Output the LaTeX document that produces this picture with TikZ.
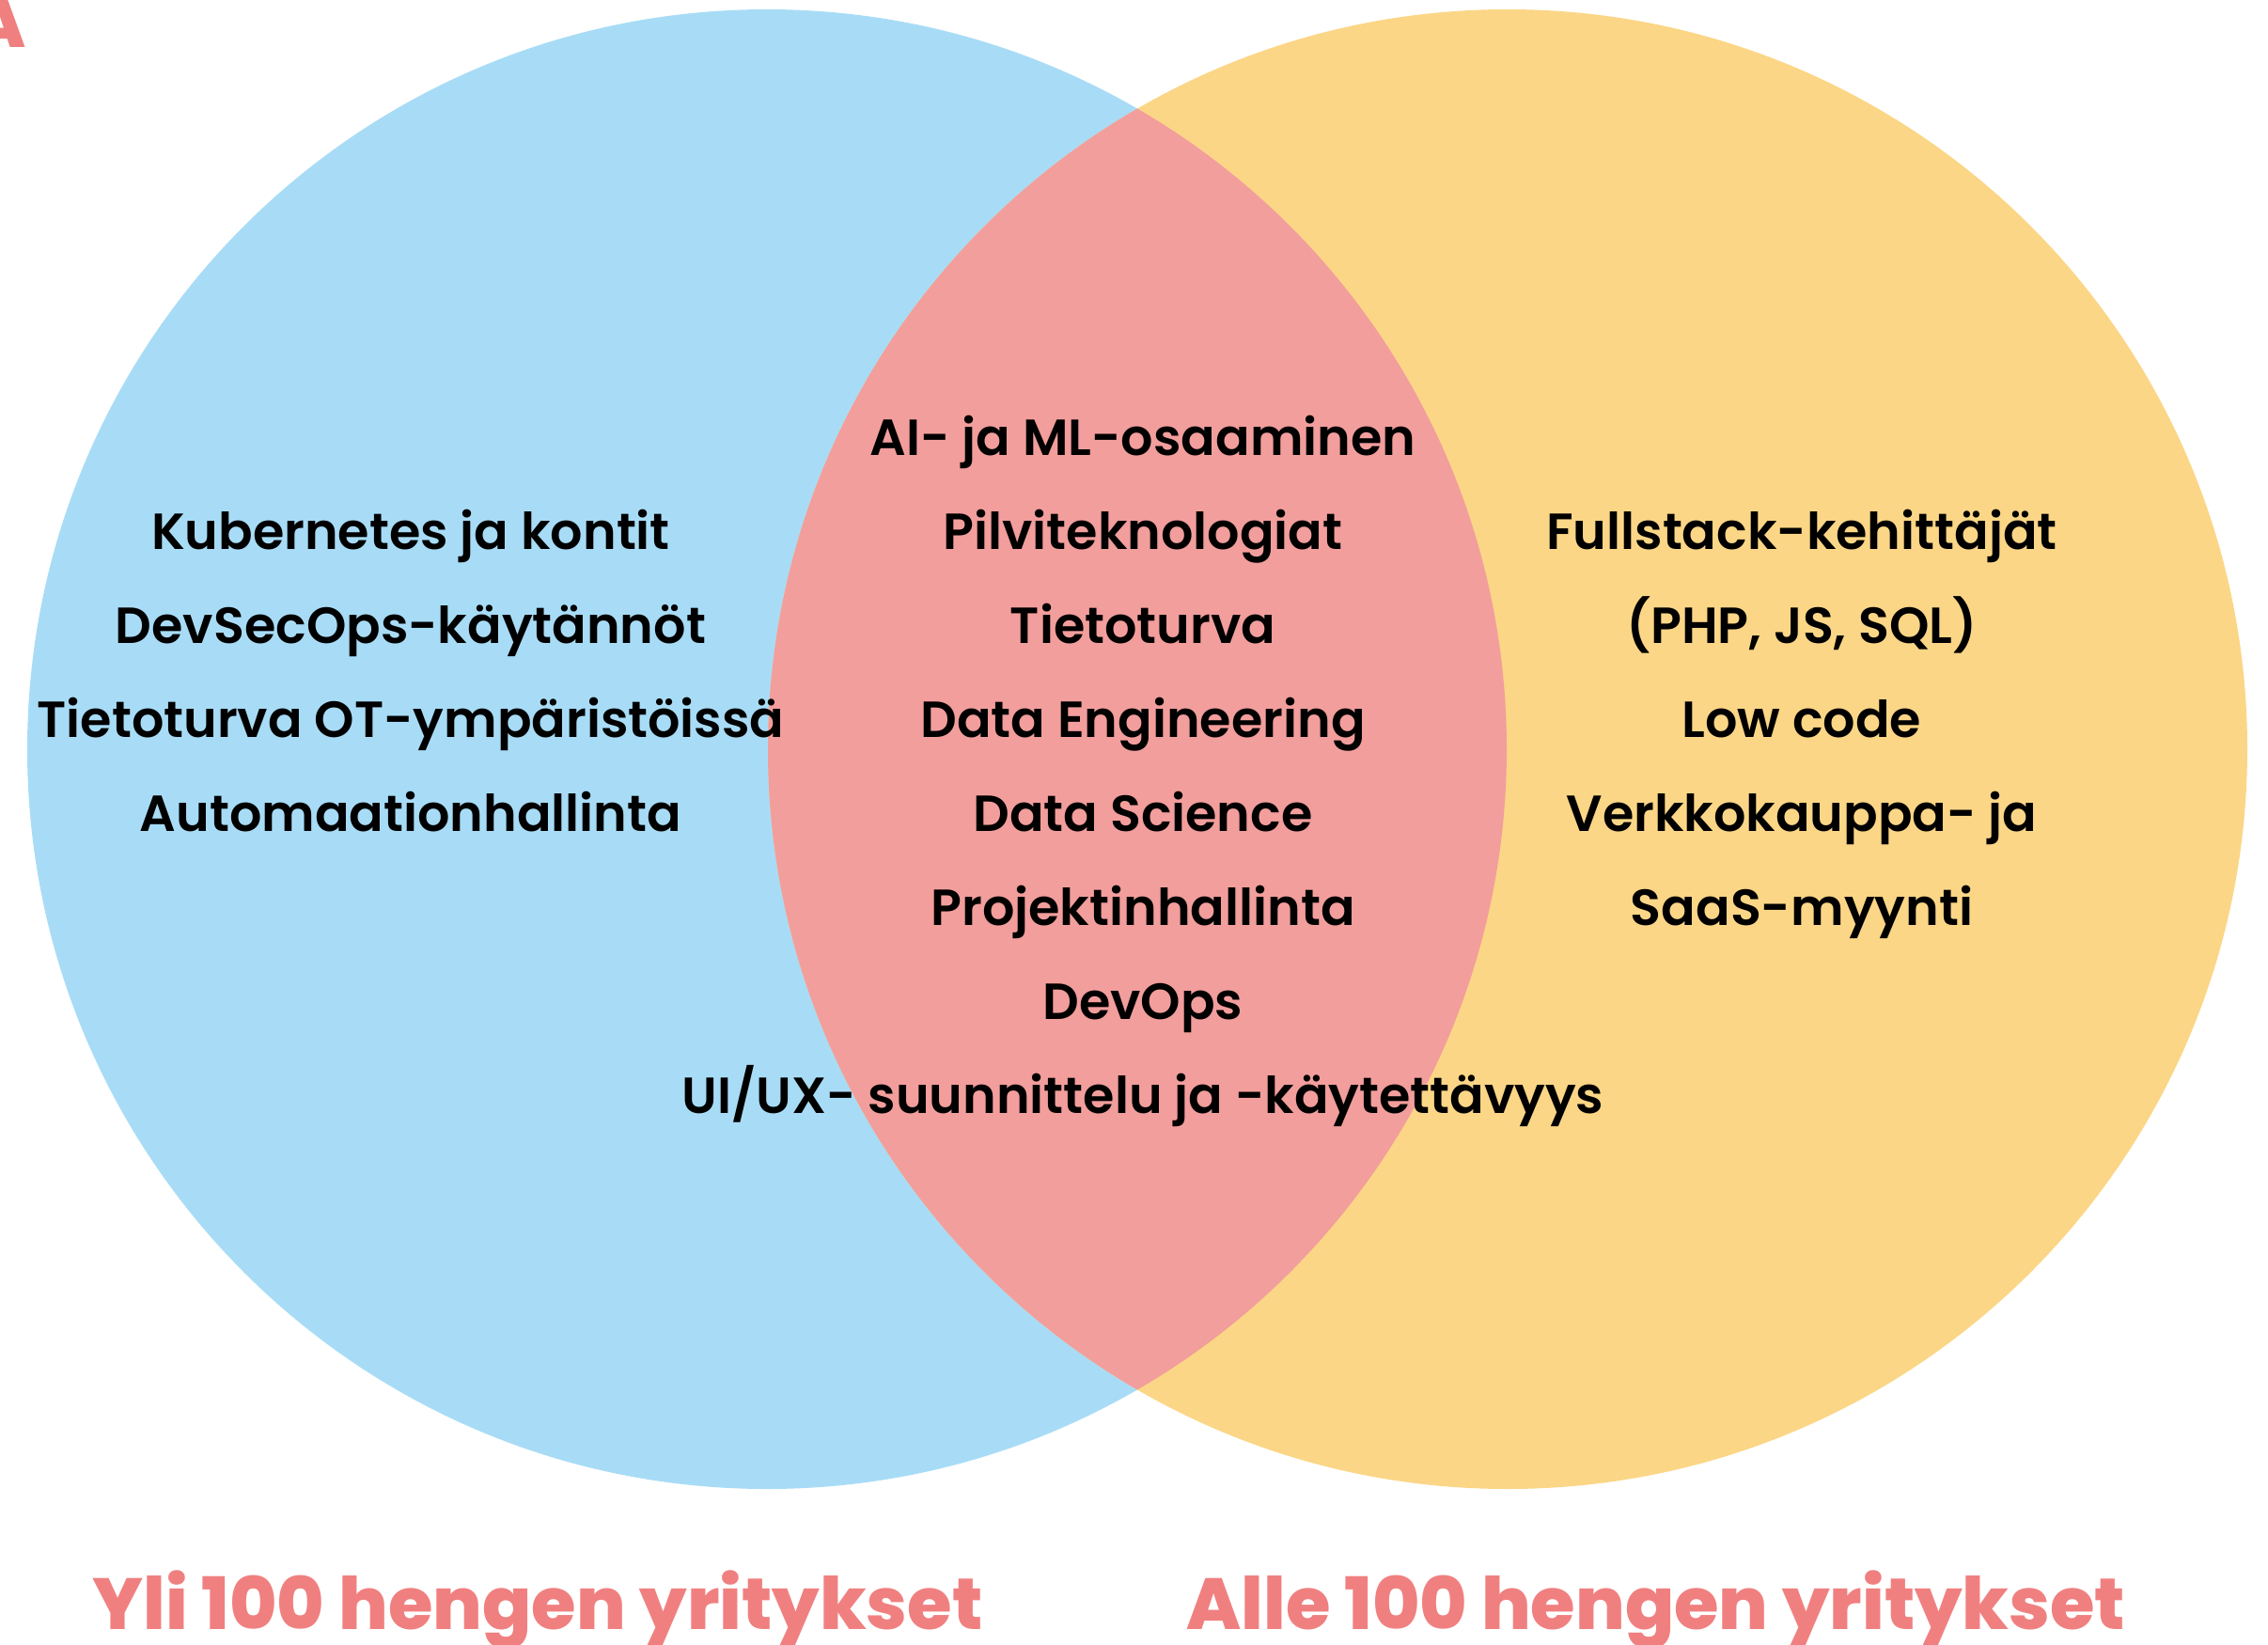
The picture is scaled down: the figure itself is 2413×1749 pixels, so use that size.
\documentclass[tikz,border=0pt]{standalone}
\usepackage{fontspec}
\setmainfont{Poppins}[UprightFont=* SemiBold, BoldFont=* Bold]
\newfontfamily\labelfont{Poppins}[UprightFont=* ExtraBold]
\definecolor{lblue}{HTML}{A8DCF6}
\definecolor{lyellow}{HTML}{FBD686}
\definecolor{lpink}{HTML}{F29E9C}
\definecolor{coral}{HTML}{F08080}
\begin{document}
\begin{tikzpicture}[x=1pt,y=-1pt,
  item/.style={font=\fontsize{54}{65}\selectfont, text=black, inner sep=0pt, anchor=base},
  group/.style={font=\labelfont\fontsize{77}{90}\selectfont, text=coral, inner sep=0pt, anchor=base}]
\useasboundingbox (0,0) rectangle (2413,1749);
\fill[lblue] (816,797) circle (787);
\fill[lyellow] (1604,797) circle (787);
\begin{scope}
\clip (816,797) circle (787);
\fill[lpink] (1604,797) circle (787);
\end{scope}
\node[group, anchor=base east] (A) at (28,50) {A};
% left
\node[item] (l1) at (437,584) {Kubernetes ja kontit};
\node[item] (l2) at (437,684) {DevSecOps-käytännöt};
\node[item] (l3) at (437,784) {Tietoturva OT-ympäristöissä};
\node[item] (l4) at (437,884) {Automaationhallinta};
% center
\node[item] (c1) at (1216,484) {AI- ja ML-osaaminen};
\node[item] (c2) at (1216,584) {Pilviteknologiat};
\node[item] (c3) at (1216,684) {Tietoturva};
\node[item] (c4) at (1216,784) {Data Engineering};
\node[item] (c5) at (1216,884) {Data Science};
\node[item] (c6) at (1216,984) {Projektinhallinta};
\node[item] (c7) at (1216,1084) {DevOps};
\node[item] (c8) at (1216,1184) {UI/UX- suunnittelu ja -käytettävyys};
% right
\node[item] (r1) at (1917,584) {Fullstack-kehittäjät};
\node[item] (r2) at (1917,684) {(PHP, JS, SQL)};
\node[item] (r3) at (1917,784) {Low code};
\node[item] (r4) at (1917,884) {Verkkokauppa- ja};
\node[item] (r5) at (1917,984) {SaaS-myynti};
% group labels
\node[group] (gl) at (572,1733) {Yli 100 hengen yritykset};
\node[group] (gr) at (1762,1733) {Alle 100 hengen yritykset};
\end{tikzpicture}
\end{document}
